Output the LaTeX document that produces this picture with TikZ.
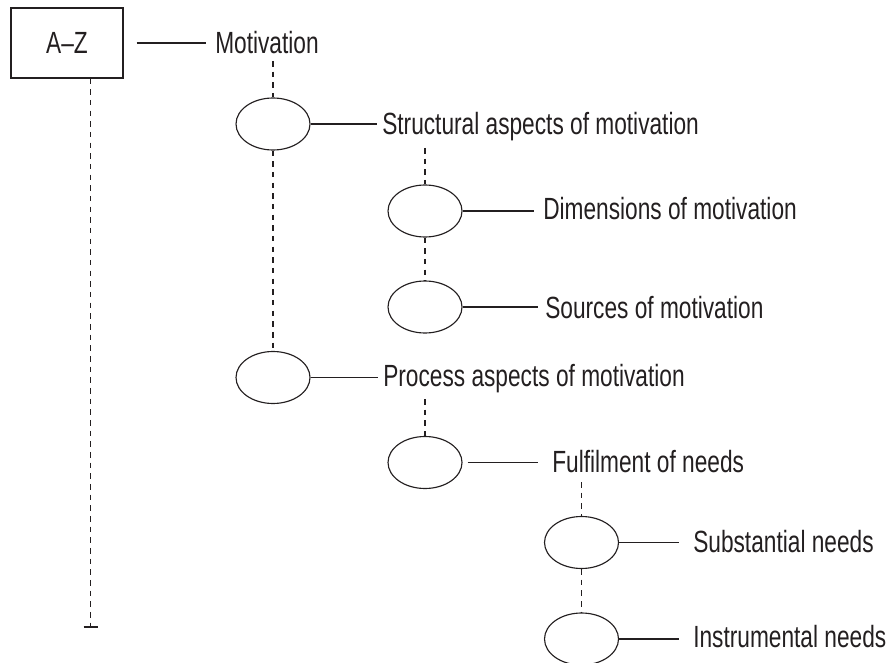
\documentclass[tikz,border=0pt]{standalone}
\usepackage{fontspec}
\setmainfont[FakeStretch=0.74]{Liberation Sans}
\usetikzlibrary{shapes.geometric,calc}
\definecolor{ink}{HTML}{231F20}
\begin{document}
\begin{tikzpicture}[x=0.75pt,y=-0.75pt,
  lbl/.style={inner sep=0pt, anchor=base west, text=ink,
    font=\fontsize{23}{27}\selectfont},
  bubble/.style={draw=ink, ellipse, line width=0.85pt, inner sep=0pt,
    minimum width=55.5pt, minimum height=39pt},
  frame/.style={draw=ink, line width=0.85pt, minimum width=84pt,
    minimum height=52.5pt, text=ink, font=\fontsize{23}{27}\selectfont},
  link/.style={draw=ink, line width=0.85pt},
  guide/.style={draw=ink, line width=0.85pt, dash pattern=on 4.2pt off 3.8pt}]
\useasboundingbox (0,0) rectangle (893,663);
\clip (0,0) rectangle (893,663);

% root box and its timeline
\node[frame] (root) at (67,43) {A--Z};
\coordinate (rootend) at (90.7,627);

% level 1
\node[lbl] (tmot) at (215,54) {Motivation};
\node[bubble] (e1) at (273,124) {};
\node[lbl] (tstr) at (382,135) {Structural aspects of motivation};
\node[bubble] (e2) at (273,377.5) {};
\node[lbl] (tpro) at (383,386) {Process aspects of motivation};

% level 2
\node[bubble] (e11) at (425,211) {};
\node[lbl] (tdim) at (543,220) {Dimensions of motivation};
\node[bubble] (e12) at (425,307) {};
\node[lbl] (tsrc) at (545,318) {Sources of motivation};
\node[bubble] (e21) at (425,462.5) {};
\node[lbl] (tful) at (552,472) {Fulfilment of needs};

% level 3
\node[bubble] (e211) at (581.5,542.5) {};
\node[lbl] (tsub) at (693,552) {Substantial needs};
\node[bubble] (e212) at (581.5,639) {};
\node[lbl] (tins) at (693,647) {Instrumental needs};

% solid connectors
\draw[link, shorten <=9.75pt, shorten >=6.75pt] (root.east) -- (root.east -| tmot.west);
\draw[link, shorten >=3.75pt] (e1.east) -- (e1.east -| tstr.west);
\draw[link, line width=1.1pt, shorten >=3.75pt] (e2.east) -- (e2.east -| tpro.west);
\draw[link, shorten >=6.75pt] (e11.east) -- (e11.east -| tdim.west);
\draw[link, shorten >=5.25pt] (e12.east) -- (e12.east -| tsrc.west);
\draw[link, shorten <=3.75pt, shorten >=10.5pt] (e21.east) -- (e21.east -| tful.west);
\draw[link, shorten >=10.5pt] (e211.east) -- (e211.east -| tsub.west);
\draw[link, shorten >=10.5pt] (e212.east) -- (e212.east -| tins.west);

% dashed guides
\draw[guide] (root.south -| rootend) -- (rootend);
\draw[link, line width=1.1pt] ($(rootend)+(-7,0)$) -- ($(rootend)+(7,0)$);
\draw[guide] ($(tmot.base -| e1.north)+(0,7)$) -- (e1.north);
\draw[guide] (e1.south) -- (e2.north);
\draw[guide] ($(tstr.base -| e11.north)+(0,13)$) -- (e11.north);
\draw[guide] (e11.south) -- (e12.north);
\draw[guide] ($(tpro.base -| e21.north)+(0,13)$) -- (e21.north);
\draw[guide] ($(tful.base -| e211.north)+(0,10)$) -- (e211.north);
\draw[guide] (e211.south) -- (e212.north);
\end{tikzpicture}
\end{document}
